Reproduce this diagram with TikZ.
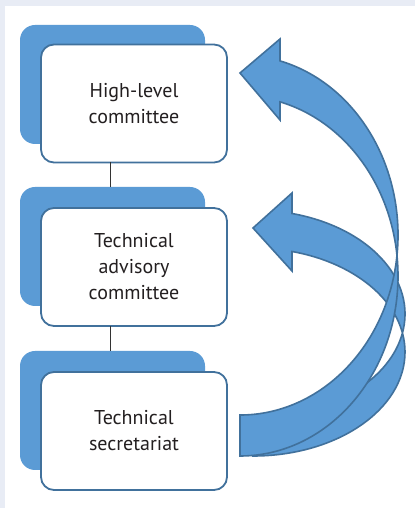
\documentclass[tikz,border=0pt]{standalone}
\usepackage{fontspec}
\setmainfont{PT Sans}
\definecolor{pagebg}{RGB}{232,236,245}
\definecolor{boxblue}{RGB}{91,155,213}
\definecolor{edgeblue}{RGB}{65,113,156}
\definecolor{txt}{RGB}{35,31,32}
\begin{document}
\begin{tikzpicture}[x=1pt,y=1pt,
  backbox/.style={rectangle,rounded corners=15pt,fill=boxblue,minimum width=185pt,minimum height=119pt,inner sep=0pt,outer sep=0pt},
  frontbox/.style={rectangle,rounded corners=13pt,fill=white,draw=edgeblue,line width=1.8pt,minimum width=186pt,minimum height=118pt,inner sep=0pt,outer sep=0pt,align=center,text=txt,font=\fontsize{20}{26}\selectfont},
  conn/.style={draw=black!80,line width=1pt},
  curvearrow/.style={fill=boxblue,draw=edgeblue,line width=1.6pt,line join=miter}]
\useasboundingbox (0,0) rectangle (415,508);
\fill[pagebg] (0,0) rectangle (415,508);
\fill[white] (5,0) rectangle (415,502);
% back boxes
\node[backbox] (back1) at (112.5,423.5) {};
\node[backbox] (back2) at (112.5,261.5) {};
\node[backbox] (back3) at (112.5,97.5) {};
% front boxes
\node[frontbox] (front1) at (134,404.5) {High-level\\committee};
\node[frontbox] (front2) at (134,241) {Technical\\advisory\\committee};
\node[frontbox] (front3) at (134,77) {Technical\\secretariat};
% connectors
\draw[conn] ([xshift=-2.5pt]back2.north) -- ([xshift=-2.5pt]back2.north |- front1.south);
\draw[conn] ([xshift=-2.5pt]back3.north) -- ([xshift=-2.5pt]back3.north |- front2.south);
% arrow to technical advisory committee
\coordinate (tip2) at (253,280);
\draw[curvearrow] (tip2) -- (292,315) -- (292,294.5)
  arc[start angle=75.13,end angle=-90,x radius=152,y radius=104]
  -- (253,52)
  arc[start angle=-90,end angle=75.13,x radius=152,y radius=104]
  -- (292,237) -- cycle;
% arrow to high-level committee
\coordinate (tip1) at (240,435);
\draw[curvearrow] (tip1) -- (280,469) -- (280,447.1)
  arc[start angle=75.33,end angle=-90,x radius=158,y radius=180]
  -- (240,52)
  arc[start angle=-90,end angle=75.33,x radius=158,y radius=180]
  -- (280,388) -- cycle;
\end{tikzpicture}
\end{document}
